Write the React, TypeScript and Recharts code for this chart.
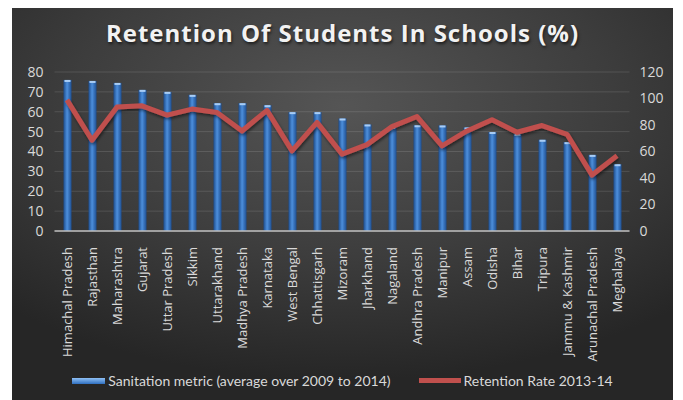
import React from "react";
import {
  ComposedChart,
  Bar,
  Line,
  XAxis,
  YAxis,
  CartesianGrid,
  Legend,
} from "recharts";

const states = [
  "Himachal Pradesh",
  "Rajasthan",
  "Maharashtra",
  "Gujarat",
  "Uttar Pradesh",
  "Sikkim",
  "Uttarakhand",
  "Madhya Pradesh",
  "Karnataka",
  "West Bengal",
  "Chhattisgarh",
  "Mizoram",
  "Jharkhand",
  "Nagaland",
  "Andhra Pradesh",
  "Manipur",
  "Assam",
  "Odisha",
  "Bihar",
  "Tripura",
  "Jammu & Kashmir",
  "Arunachal Pradesh",
  "Meghalaya",
];

const sanitation = [
  76, 75.5, 74.5, 71, 70, 68.5, 64.3, 64.3, 63.3, 59.8, 59.8, 56.6, 53.6,
  52.3, 53.2, 53.1, 52.1, 49.8, 48.8, 45.9, 44.7, 38.3, 33.6,
];

const retention = [
  99, 68.5, 93.5, 94.5, 87.5, 92, 89.5, 75.5, 91, 60.5, 82, 58, 65.2, 78.8,
  86.4, 64.3, 75.5, 84, 74.5, 79.6, 73, 42.2, 56.8,
];

const leftTicks = [0, 10, 20, 30, 40, 50, 60, 70, 80];
const rightTicks = [0, 20, 40, 60, 80, 100, 120];

const data = states.map((name, i) => ({
  name,
  sanitation: sanitation[i],
  retention: retention[i],
}));

const labelColor = "#d9d9d9";

function StateTick(props: any) {
  const { x, y, payload } = props;
  return (
    <text
      x={x}
      y={y}
      transform={`rotate(-90 ${x} ${y})`}
      textAnchor="end"
      dy="0.35em"
      dx={-8}
      fill={labelColor}
      fontSize={13}
      fontFamily="'Open Sans', sans-serif"
    >
      {payload.value}
    </text>
  );
}

function BarShape(props: any) {
  const { x, y, width, height } = props;
  if (height <= 0) return null;
  return (
    <g>
      <rect x={x} y={y} width={width} height={height} fill="url(#barGrad)" />
      <rect x={x + 1} y={y} width={width - 2} height={2} fill="#a9cdf5" />
    </g>
  );
}

function LegendContent() {
  return (
    <div
      style={{
        display: "flex",
        justifyContent: "center",
        alignItems: "center",
        fontFamily: "Lato, sans-serif",
        fontSize: 14,
        color: labelColor,
        height: 17,
      }}
    >
      <span
        style={{
          display: "inline-block",
          width: 33,
          height: 6,
          background: "linear-gradient(#8fc0f5, #2f6fc0)",
          marginRight: 3,
        }}
      />
      <span>Sanitation metric (average over 2009 to 2014)</span>
      <span
        style={{
          display: "inline-block",
          width: 42,
          height: 5,
          background: "#c0504d",
          marginLeft: 28,
          marginRight: 3,
        }}
      />
      <span>Retention Rate 2013-14</span>
    </div>
  );
}

export default function App() {
  return (
    <div
      style={{
        position: "absolute",
        left: 12,
        top: 8,
        width: 661,
        height: 392,
        background:
          "radial-gradient(ellipse 75% 70% at 50% 25%, #555555 0%, #3d3d3d 55%, #262626 100%)",
      }}
    >
      <div
        style={{
          position: "absolute",
          top: 8,
          width: "100%",
          textAlign: "center",
          color: "#f2f2f2",
          fontFamily: "'Open Sans', sans-serif",
          fontWeight: 700,
          fontSize: 24,
          letterSpacing: 1,
          textShadow: "1px 2px 3px rgba(0,0,0,0.6)",
        }}
      >
        Retention Of Students In Schools (%)
      </div>
      <ComposedChart
        width={661}
        height={392}
        data={data}
        margin={{ top: 64, right: 0, bottom: 0, left: 0 }}
        barCategoryGap="0%"
      >
        <defs>
          <linearGradient id="barGrad" x1="0" y1="0" x2="1" y2="0">
            <stop offset="0%" stopColor="#1d4c8c" />
            <stop offset="45%" stopColor="#4d8fdc" />
            <stop offset="100%" stopColor="#1e4f92" />
          </linearGradient>
          <filter id="lineShadow" x="-5%" y="-20%" width="110%" height="140%">
            <feDropShadow dx="1" dy="2" stdDeviation="1.5" floodColor="#000" floodOpacity="0.5" />
          </filter>
        </defs>
        <CartesianGrid
          vertical={false}
          stroke="rgba(255,255,255,0.12)"
          yAxisId="left"
        />
        <XAxis
          dataKey="name"
          interval={0}
          tick={<StateTick />}
          tickLine={false}
          axisLine={{ stroke: "#bfbfbf", strokeWidth: 1.5 }}
          height={152}
        />
        <YAxis
          yAxisId="left"
          domain={[0, 80]}
          ticks={leftTicks}
          interval={0}
          width={42.5}
          tickLine={false}
          axisLine={false}
          tickSize={0}
          tickMargin={11}
          tick={{ fill: labelColor, fontSize: 14, fontFamily: "'Open Sans', sans-serif" }}
        />
        <YAxis
          yAxisId="right"
          orientation="right"
          domain={[0, 120]}
          ticks={rightTicks}
          interval={0}
          width={43.5}
          tickLine={false}
          axisLine={false}
          tickSize={0}
          tickMargin={10}
          tick={{
            fill: labelColor,
            fontSize: 14,
            fontFamily: "'Open Sans', sans-serif",
            textAnchor: "start",
          }}
        />
        <Bar
          yAxisId="left"
          dataKey="sanitation"
          barSize={8}
          shape={<BarShape />}
          isAnimationActive={false}
        />
        <Line
          yAxisId="right"
          dataKey="retention"
          stroke="#c0504d"
          strokeWidth={5}
          dot={false}
          activeDot={false}
          strokeLinejoin="round"
          filter="url(#lineShadow)"
          isAnimationActive={false}
        />
        <Legend
          content={<LegendContent />}
          wrapperStyle={{ top: 364, left: 0, width: 661 }}
        />
      </ComposedChart>
    </div>
  );
}
